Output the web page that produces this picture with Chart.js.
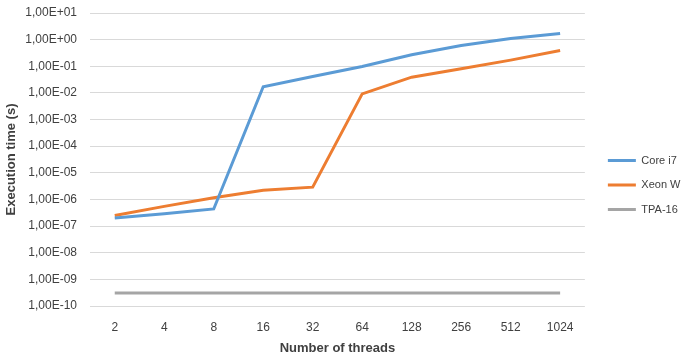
<!DOCTYPE html>
<html>
<head>
<meta charset="utf-8">
<script src="https://cdn.jsdelivr.net/npm/chart.js@4/dist/chart.umd.min.js"></script>
<style>
  body { margin: 0; background: #fff; }
  #wrap { width: 686px; height: 359px; }
</style>
</head>
<body>
<div id="wrap"><canvas id="chart"></canvas></div>
<script>
'use strict'

const threads = ['2', '4', '8', '16', '32', '64', '128', '256', '512', '1024'];
const coreI7 = [2.0e-7, 2.9e-7, 4.4e-7, 1.7e-2, 4.1e-2, 9.8e-2, 2.7e-1, 6.0e-1, 1.1, 1.7];
const xeonW = [2.5e-7, 5.5e-7, 1.15e-6, 2.2e-6, 2.9e-6, 9.2e-3, 3.9e-2, 8.0e-2, 1.7e-1, 3.9e-1];
const tpa16 = [3.1e-10, 3.1e-10, 3.1e-10, 3.1e-10, 3.1e-10, 3.1e-10, 3.1e-10, 3.1e-10, 3.1e-10, 3.1e-10];
const yTicks = [1e-10, 1e-9, 1e-8, 1e-7, 1e-6, 1e-5, 1e-4, 1e-3, 1e-2, 1e-1, 1, 10];

const font = 'Liberation Sans';
const textColor = '#404040';

function sciLabel(v) {
	let exp = Math.round(Math.log10(v));
	let sign = exp < 0 ? '-' : '+';
	let e = String(Math.abs(exp)).padStart(2, '0');
	return '1,00E' + sign + e;
}

function line(label, data, color) {
	return {
		label: label,
		data: data,
		borderColor: color,
		backgroundColor: color,
		borderWidth: 3,
		pointRadius: 0,
		pointStyle: 'line',
		tension: 0,
	};
}

// nudge the legend to where excel puts it
const legendNudge = {
	id: 'legendNudge',
	afterLayout(chart) {
		const l = chart.legend;
		l.left += 9.5; l.right += 9.5;
		l.top -= 1; l.bottom -= 1;
	},
};

new Chart(document.getElementById('chart'), {
	type: 'line',
	data: {
		labels: threads,
		datasets: [
			line('Core i7', coreI7, '#5B9BD5'),
			line('Xeon W', xeonW, '#ED7D31'),
			line('TPA-16', tpa16, '#A5A5A5'),
		],
	},
	plugins: [legendNudge],
	options: {
		responsive: true,
		maintainAspectRatio: false,
		animation: false,
		layout: {
			autoPadding: false,
			padding: { top: 13, right: 5, left: 0, bottom: 0 },
		},
		plugins: {
			legend: {
				position: 'right',
				labels: {
					font: { family: font, size: 11 },
					color: textColor,
					usePointStyle: true,
					pointStyleWidth: 28,
					boxWidth: 28,
					boxHeight: 3,
					padding: 13.5,
				},
			},
			tooltip: { enabled: false },
		},
		scales: {
			x: {
				offset: true,
				grid: { display: false, drawTicks: false },
				border: { display: false },
				afterFit: (axis) => { axis.height = 53; },
				ticks: {
					font: { family: font, size: 12 },
					color: textColor,
					padding: 14,
				},
				title: {
					display: true,
					text: 'Number of threads',
					font: { family: font, size: 13, weight: 'bold' },
					color: textColor,
					padding: { top: 4, bottom: 3 },
				},
			},
			y: {
				type: 'logarithmic',
				min: 1e-10,
				max: 10,
				bounds: 'data',
				afterFit: (axis) => {
					axis.width = 90;
					axis.paddingTop = 0;
					axis.paddingBottom = 0;
				},
				afterBuildTicks: (axis) => {
					axis.ticks = yTicks.map(v => ({ value: v }));
				},
				grid: {
					color: '#D9D9D9',
					lineWidth: 1,
					drawTicks: false,
				},
				border: { display: false },
				ticks: {
					font: { family: font, size: 12 },
					color: textColor,
					padding: 13,
					autoSkip: false,
					callback: (v) => sciLabel(v),
				},
				title: {
					display: true,
					text: 'Execution time (s)',
					font: { family: font, size: 13, weight: 'bold' },
					color: textColor,
					padding: { top: 4, bottom: 2 },
				},
			},
		},
	},
});
</script>
</body>
</html>
